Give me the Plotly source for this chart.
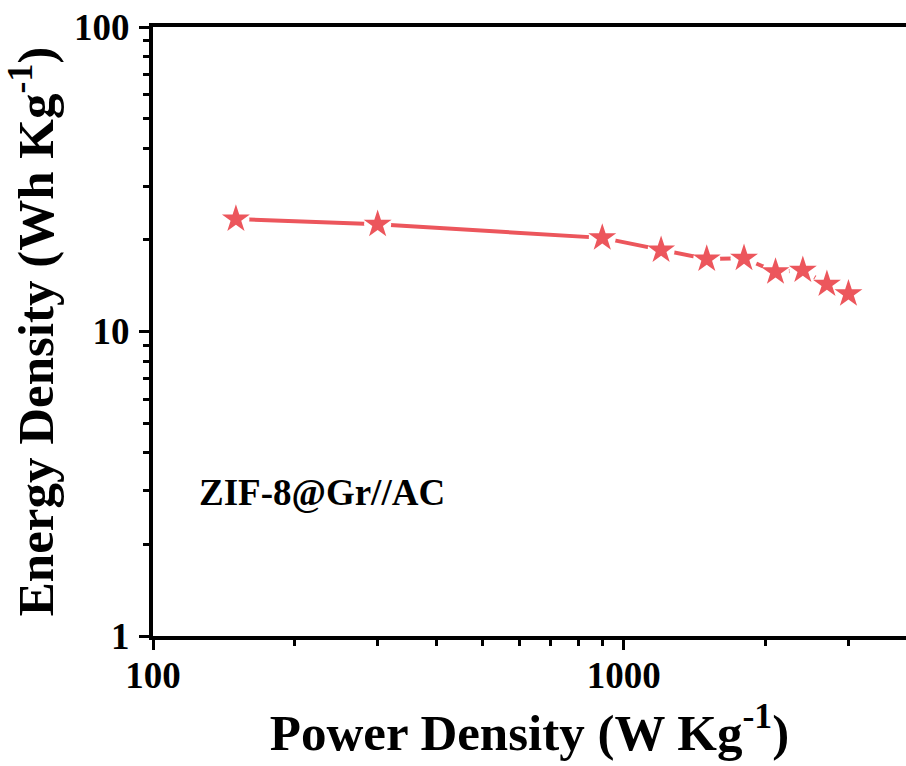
import plotly.graph_objects as go
import numpy as np

power = [150, 300, 900, 1200, 1500, 1800, 2100, 2400, 2700, 3000]
energy = [23.4, 22.5, 20.3, 18.5, 17.3, 17.4, 15.7, 15.9, 14.3, 13.3]
label = "ZIF-8@Gr//AC"
color = "rgb(236,86,92)"
font_family = "Liberation Serif"

fig = go.Figure()
fig.add_trace(go.Scatter(x=power, y=energy, mode="lines",
                         line=dict(color=color, width=4), showlegend=False, hoverinfo="skip"))
# white halo to create gaps around markers
fig.add_trace(go.Scatter(x=power, y=energy, mode="markers",
                         marker=dict(symbol="circle", size=27, color="white", line=dict(width=0)),
                         showlegend=False, hoverinfo="skip"))
fig.add_trace(go.Scatter(x=power, y=energy, mode="markers",
                         marker=dict(symbol="star", size=21, color=color, line=dict(width=0)),
                         showlegend=False))

fig.add_annotation(x=np.log10(229), y=np.log10(2.95), xref="x", yref="y", text="<b>" + label + "</b>",
                   showarrow=False, font=dict(family=font_family, size=37, color="black"))

axis_common = dict(
    type="log", showgrid=False, zeroline=False,
    showline=True, linecolor="black", linewidth=4,
    ticks="outside", ticklen=10, tickwidth=3, tickcolor="black",
    dtick=1,
    tickfont=dict(family=font_family, size=37, color="black", weight="bold"),
    minor=dict(ticks="outside", ticklen=6, tickwidth=2.5, tickcolor="black", dtick="D1", showgrid=False),
)

fig.update_xaxes(**axis_common, range=[2, np.log10(3975)], mirror=True, ticklabelstandoff=-6,
                 title=dict(text="<b>Power Density (W Kg<sup>-1</sup>)</b>",
                            font=dict(family=font_family, size=51, color="black"), standoff=8))
fig.update_yaxes(**axis_common, range=[0, 2], ticklabelstandoff=2,
                 title=dict(text="<b>Energy Density (Wh Kg<sup>-1</sup>)</b>",
                            font=dict(family=font_family, size=51, color="black"), standoff=8))

fig.update_layout(width=906, height=766, margin=dict(l=153, r=0, t=27, b=130),
                  plot_bgcolor="white", paper_bgcolor="white")
fig.write_html("out.html")
